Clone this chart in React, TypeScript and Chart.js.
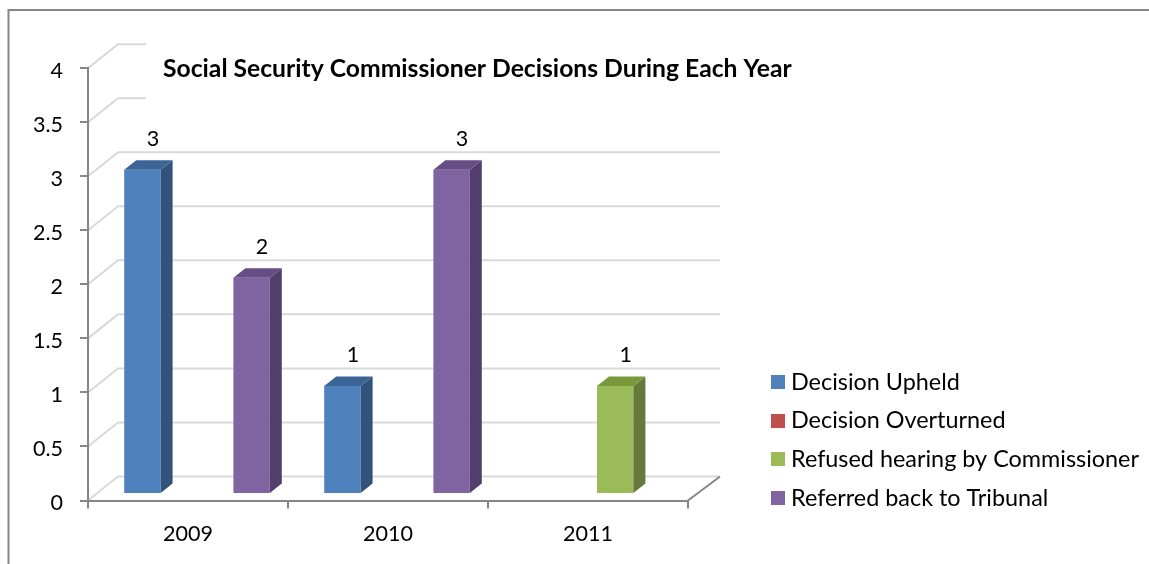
import React, { useEffect, useRef } from "react";
import { Chart, registerables } from "chart.js";

Chart.register(...registerables);

const categories = ["2009", "2010", "2011"];
const upheld = [3, 1, null];
const overturned = [null, null, null];
const refused = [null, null, 1];
const referred = [2, 3, null];
const seriesNames = ["Decision Upheld", "Decision Overturned", "Refused hearing by Commissioner", "Referred back to Tribunal"];
const seriesColors = ["#4F81BD", "#C0504D", "#9BBB59", "#8064A2"];
const sideColors = ["#31527A", "#7D3330", "#66793A", "#533F6D"];
const topColors = ["#3B6596", "#96403D", "#799A3B", "#664D85"];
const titleText = "Social Security Commissioner Decisions During Each Year";

const FONT = "Lato, Carlito, sans-serif";
const DX = 30, DY = -24;          // wall depth
const BAR_SHIFT_X = 9, BAR_SHIFT_Y = -6.5; // bars stand inside the floor
const BAR_DX = 12, BAR_DY = -9.5; // bar depth

const scene3d = {
  id: "scene3d",
  afterLayout(chart: any) {
    const t = chart.titleBlock;
    if (t) { t.left = 163; t.right = 900; t.top = 54; t.bottom = 84; }
  },
  beforeDraw(chart: any) {
    const { ctx, chartArea: a, scales: { y } } = chart;
    ctx.save();
    // outer chart frame
    ctx.strokeStyle = "#868686";
    ctx.lineWidth = 2;
    ctx.beginPath();
    ctx.moveTo(8.5, 564);
    ctx.lineTo(8.5, 10);
    ctx.lineTo(1149, 10);
    ctx.stroke();
    // wall grid
    ctx.strokeStyle = "#D9D9D9";
    ctx.lineWidth = 2;
    y.ticks.forEach((tk: any) => {
      const py = y.getPixelForValue(tk.value);
      ctx.beginPath();
      ctx.moveTo(a.left, py);
      ctx.lineTo(a.left + DX, py + DY);
      ctx.lineTo(a.right + DX + 2, py + DY);
      ctx.stroke();
    });
    // floor right edge
    ctx.strokeStyle = "#868686";
    ctx.beginPath();
    ctx.moveTo(a.right, a.bottom);
    ctx.lineTo(a.right + DX + 2, a.bottom + DY);
    ctx.stroke();
    // white title background hides the top gridlines
    ctx.fillStyle = "#FFFFFF";
    ctx.fillRect(146, 30, 620, 100);
    ctx.restore();
  },
  beforeDatasetsDraw(chart: any) {
    chart.ctx.save();
    chart.ctx.translate(BAR_SHIFT_X, BAR_SHIFT_Y);
  },
  afterDatasetsDraw(chart: any) {
    const { ctx } = chart;
    chart.data.datasets.forEach((ds: any, di: number) => {
      chart.getDatasetMeta(di).data.forEach((el: any, i: number) => {
        const v = ds.data[i];
        if (v == null) return;
        const l = el.x - el.width / 2, r = el.x + el.width / 2, t = el.y, b = el.base;
        ctx.fillStyle = sideColors[di];
        ctx.beginPath();
        ctx.moveTo(r, t);
        ctx.lineTo(r + BAR_DX, t + BAR_DY);
        ctx.lineTo(r + BAR_DX, b + BAR_DY);
        ctx.lineTo(r, b);
        ctx.closePath();
        ctx.fill();
        ctx.fillStyle = topColors[di];
        ctx.beginPath();
        ctx.moveTo(l, t);
        ctx.lineTo(l + BAR_DX, t + BAR_DY);
        ctx.lineTo(r + BAR_DX, t + BAR_DY);
        ctx.lineTo(r, t);
        ctx.closePath();
        ctx.fill();
        // value label
        ctx.fillStyle = "#000000";
        ctx.font = `21.5px ${FONT}`;
        ctx.textAlign = "center";
        ctx.textBaseline = "middle";
        ctx.fillText(String(v), el.x + 10.5, t - 31);
      });
    });
    ctx.restore();
  },
  afterDraw(chart: any) {
    const { ctx } = chart;
    ctx.save();
    ctx.font = `23.4px ${FONT}`;
    ctx.textBaseline = "middle";
    ctx.textAlign = "left";
    chart.data.datasets.forEach((ds: any, i: number) => {
      const cy = 382 + i * 38.7;
      ctx.fillStyle = ds.backgroundColor;
      ctx.fillRect(771, Math.round(cy - 7), 14, 14);
      ctx.fillStyle = "#000000";
      ctx.fillText(ds.label, 791, cy);
    });
    ctx.restore();
  },
};

export default function App() {
  const ref = useRef<HTMLCanvasElement>(null);
  useEffect(() => {
    document.body.style.margin = "0";
    document.body.style.background = "#FFFFFF";
    const series = [upheld, overturned, refused, referred];
    const chart = new Chart(ref.current!, {
      type: "bar",
      data: {
        labels: categories,
        datasets: series.map((data, i) => ({
          label: seriesNames[i],
          data,
          backgroundColor: seriesColors[i],
          borderWidth: 0,
          barPercentage: 1,
          categoryPercentage: 0.728,
        })),
      },
      options: {
        responsive: false,
        animation: false,
        devicePixelRatio: 1,
        layout: { padding: { left: 0, right: 461, top: 38.5, bottom: 0 } },
        plugins: {
          legend: { display: false },
          tooltip: { enabled: false },
          title: {
            display: true,
            text: titleText,
            align: "start",
            color: "#000000",
            font: { family: FONT, size: 24.7, weight: "bold" },
            padding: 0,
          },
        },
        scales: {
          x: {
            offset: true,
            afterFit: (s: any) => { s.height = 63.5; },
            border: { color: "#868686", width: 2 },
            grid: { display: true, drawOnChartArea: false, drawTicks: true, tickLength: 8, color: "#868686", lineWidth: 2, offset: true },
            ticks: { color: "#000000", font: { family: FONT, size: 21.5 }, padding: 13, maxRotation: 0 },
          },
          y: {
            min: 0,
            max: 4,
            afterFit: (s: any) => { s.width = 88; },
            border: { color: "#868686", width: 2 },
            grid: { display: true, drawOnChartArea: false, drawTicks: true, tickLength: 8, color: "#868686", lineWidth: 2 },
            ticks: { stepSize: 0.5, color: "#000000", font: { family: FONT, size: 21.5 }, padding: 17, labelOffset: 3, callback: (v: any) => String(v) },
          },
        },
      },
      plugins: [scene3d],
    } as any);
    return () => chart.destroy();
  }, []);
  return (
    <div style={{ position: "fixed", left: 0, top: 0, width: 1149, height: 564 }}>
      <canvas ref={ref} width={1149} height={564} style={{ display: "block" }} />
    </div>
  );
}
